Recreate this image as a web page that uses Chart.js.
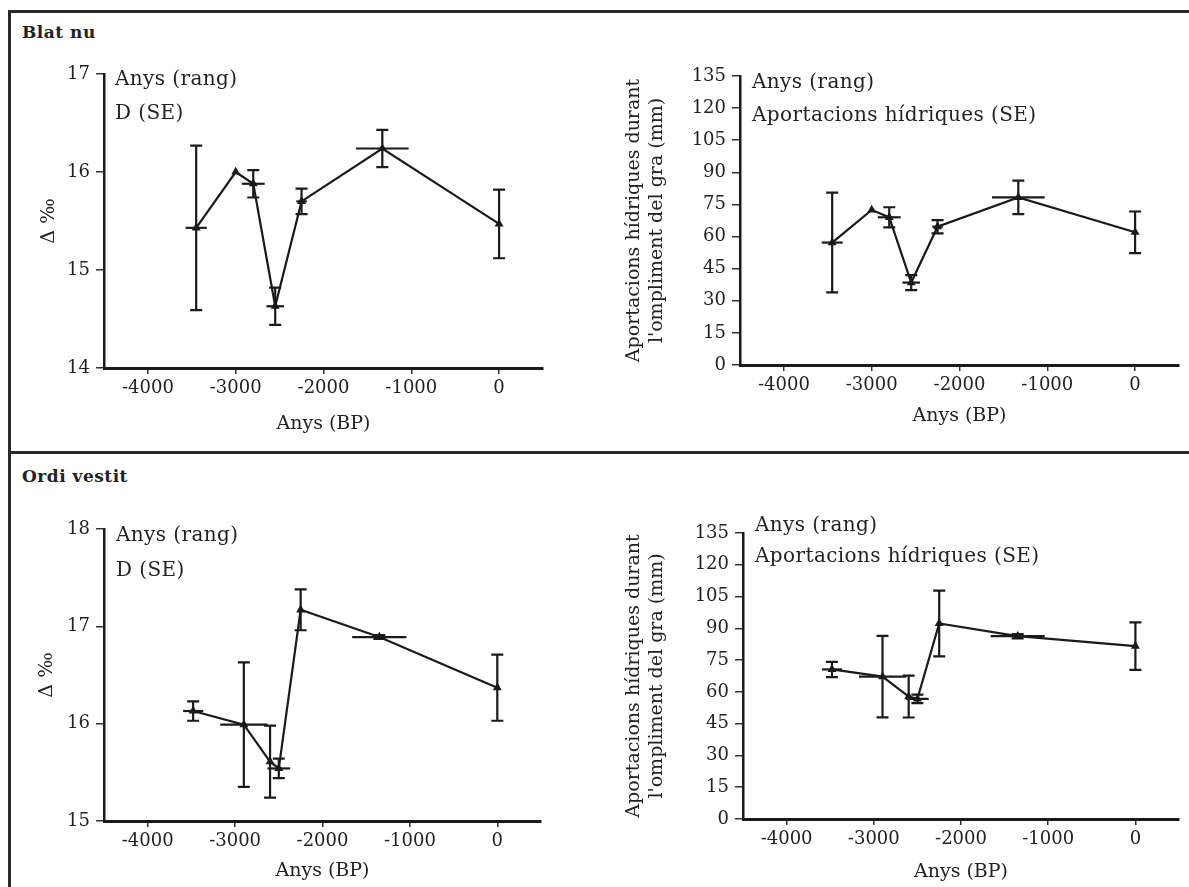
<!DOCTYPE html>
<html>
<head>
<meta charset="utf-8">
<script src="https://cdn.jsdelivr.net/npm/chart.js@4.4.1/dist/chart.umd.min.js"></script>
<style>
body { margin: 0; background: #fff; width: 1189px; height: 887px; position: relative; overflow: hidden; }
.frame { position: absolute; background: #2a2a2a; }
.head { position: absolute; font: bold 17px "DejaVu Serif", serif; color: #222; letter-spacing: 0.5px; }
canvas { position: absolute; }
</style>
</head>
<body>
<div class="frame" style="left:8px;top:10px;width:3px;height:877px"></div>
<div class="frame" style="left:8px;top:10px;width:1181px;height:3px"></div>
<div class="frame" style="left:8px;top:451px;width:1181px;height:3px"></div>
<div class="head" style="left:22px;top:22px">Blat nu</div>
<div class="head" style="left:22px;top:466px">Ordi vestit</div>
<canvas id="wheatDeltaChart" width="550" height="410" style="left:10px;top:40px"></canvas>
<canvas id="wheatWaterChart" width="609" height="410" style="left:580px;top:40px"></canvas>
<canvas id="barleyDeltaChart" width="550" height="397" style="left:10px;top:490px"></canvas>
<canvas id="barleyWaterChart" width="609" height="397" style="left:580px;top:490px"></canvas>
<script>
// Blat nu (wheat) - years BP with range, delta and water supply with SE
const wheatYears = [-3450, -3000, -2800, -2550, -2250, -1330, 0];
const wheatYearRange = [120, 0, 130, 100, 60, 300, 0];
const wheatDelta = [15.43, 16.0, 15.88, 14.63, 15.70, 16.24, 15.47];
const wheatDeltaSE = [0.84, 0, 0.14, 0.19, 0.13, 0.19, 0.35];
const wheatWater = [57.2, 72.4, 69.0, 38.5, 64.6, 78.3, 62.0];
const wheatWaterSE = [23.3, 0, 4.7, 3.5, 3.1, 7.8, 9.7];

// Ordi vestit (hulled barley)
const barleyYears = [-3480, -2900, -2600, -2500, -2250, -1350, 0];
const barleyYearRange = [115, 270, 0, 130, 0, 310, 0];
const barleyDelta = [16.13, 15.99, 15.61, 15.54, 17.17, 16.89, 16.37];
const barleyDeltaSE = [0.10, 0.64, 0.37, 0.10, 0.21, 0.02, 0.34];
const barleyWater = [70.6, 67.2, 57.8, 56.7, 92.3, 86.3, 81.6];
const barleyWaterSE = [3.6, 19.2, 9.9, 2.0, 15.5, 1.0, 11.2];

// tick labels
const yearTicks = [-4000, -3000, -2000, -1000, 0];
const wheatDeltaTicks = [14, 15, 16, 17];
const barleyDeltaTicks = [15, 16, 17, 18];
const waterTicks = [0, 15, 30, 45, 60, 75, 90, 105, 120, 135];

const INK = '#1a1a1a';
const TXT = '#222';
const FONT = { family: '"DejaVu Serif", serif', size: 18 };
const TITLE_FONT = { family: '"DejaVu Serif", serif', size: 19 };

// draws the vertical SE bars (with caps) and horizontal year-range bars
const errorBars = {
    id: 'errorBars',
    afterDatasetsDraw(chart) {
        const { ctx, scales: { x, y } } = chart;
        const ds = chart.data.datasets[0];
        ctx.save();
        ctx.strokeStyle = INK;
        ctx.lineWidth = 2.2;
        ds.data.forEach((p, i) => {
            const px = x.getPixelForValue(p.x);
            const py = y.getPixelForValue(p.y);
            const se = ds.yErr[i];
            const r = ds.xErr[i];
            if (se > 0) {
                const t = y.getPixelForValue(p.y + se);
                const b = y.getPixelForValue(p.y - se);
                ctx.beginPath();
                ctx.moveTo(px, t); ctx.lineTo(px, b);
                ctx.moveTo(px - 6, t); ctx.lineTo(px + 6, t);
                ctx.moveTo(px - 6, b); ctx.lineTo(px + 6, b);
                ctx.stroke();
            }
            if (r > 0) {
                ctx.beginPath();
                ctx.moveTo(x.getPixelForValue(p.x - r), py);
                ctx.lineTo(x.getPixelForValue(p.x + r), py);
                ctx.stroke();
            }
        });
        ctx.restore();
    }
};

// the two-line key in the top-left corner of each plot
const cornerText = {
    id: 'cornerText',
    afterDraw(chart, args, opts) {
        const { ctx, chartArea } = chart;
        ctx.save();
        ctx.font = '20px "DejaVu Serif", serif';
        ctx.letterSpacing = '0.4px';
        ctx.fillStyle = TXT;
        ctx.textBaseline = 'middle';
        opts.lines.forEach((t, i) => {
            ctx.fillText(t, chartArea.left + opts.dx, chartArea.top + opts.dy + i * opts.gap);
        });
        ctx.restore();
    }
};

function makeChart(id, cfg) {
    new Chart(document.getElementById(id), {
        type: 'scatter',
        data: {
            datasets: [{
                data: cfg.years.map((v, i) => ({ x: v, y: cfg.values[i] })),
                xErr: cfg.range,
                yErr: cfg.se,
                showLine: true,
                tension: 0,
                borderColor: INK,
                borderWidth: 2.2,
                pointStyle: 'triangle',
                pointRadius: 3,
                pointBackgroundColor: INK,
                pointBorderColor: INK
            }]
        },
        options: {
            responsive: false,
            animation: false,
            layout: { padding: cfg.pad },
            plugins: {
                legend: { display: false },
                tooltip: { enabled: false },
                cornerText: cfg.key
            },
            scales: {
                x: {
                    type: 'linear',
                    min: -4500,
                    max: 500,
                    afterBuildTicks: s => { s.ticks = yearTicks.map(v => ({ value: v })); },
                    afterFit: s => { s.height = cfg.xh; },
                    ticks: { callback: v => String(v), font: FONT, color: TXT, padding: 4, maxRotation: 0, autoSkip: false },
                    grid: { drawOnChartArea: false, tickLength: 6, color: '#333', lineWidth: 1.5 },
                    border: { color: INK, width: 3 },
                    title: { display: true, text: 'Anys (BP)', font: TITLE_FONT, color: TXT, padding: { top: 0, bottom: cfg.xtp } }
                },
                y: {
                    min: cfg.yMin,
                    max: cfg.yMax,
                    afterBuildTicks: s => { s.ticks = cfg.yTicks.map(v => ({ value: v })); },
                    afterFit: s => { s.width = cfg.yw; },
                    ticks: { callback: v => String(v), font: FONT, color: TXT, padding: 6, autoSkip: false },
                    grid: { drawOnChartArea: false, tickLength: 8, color: '#333', lineWidth: 1.5 },
                    border: { color: INK, width: 2.5 },
                    title: { display: true, text: cfg.yTitle, font: TITLE_FONT, color: TXT, padding: { top: cfg.ytp, bottom: 0 } }
                }
            }
        },
        plugins: [errorBars, cornerText]
    });
}

const waterTitle = ['Aportacions hídriques durant', "l'ompliment del gra (mm)"];

makeChart('wheatDeltaChart', {
    years: wheatYears, values: wheatDelta, range: wheatYearRange, se: wheatDeltaSE,
    yMin: 14, yMax: 17, yTicks: wheatDeltaTicks, yTitle: 'Δ ‰',
    pad: { top: 34, right: 17, bottom: 0, left: 0 }, yw: 94, xh: 82, xtp: 15, ytp: 28,
    key: { lines: ['Anys (rang)', 'D (SE)'], dx: 11, dy: 6, gap: 34 }
});
makeChart('wheatWaterChart', {
    years: wheatYears, values: wheatWater, range: wheatYearRange, se: wheatWaterSE,
    yMin: 0, yMax: 135, yTicks: waterTicks, yTitle: waterTitle,
    pad: { top: 36, right: 10, bottom: 0, left: 0 }, yw: 160, xh: 85, xtp: 23, ytp: 43,
    key: { lines: ['Anys (rang)', 'Aportacions hídriques (SE)'], dx: 12, dy: 7, gap: 33 }
});
makeChart('barleyDeltaChart', {
    years: barleyYears, values: barleyDelta, range: barleyYearRange, se: barleyDeltaSE,
    yMin: 15, yMax: 18, yTicks: barleyDeltaTicks, yTitle: 'Δ ‰',
    pad: { top: 39, right: 19, bottom: 0, left: 0 }, yw: 94, xh: 66, xtp: 5, ytp: 26,
    key: { lines: ['Anys (rang)', 'D (SE)'], dx: 12, dy: 7, gap: 35 }
});
makeChart('barleyWaterChart', {
    years: barleyYears, values: barleyWater, range: barleyYearRange, se: barleyWaterSE,
    yMin: 0, yMax: 135, yTicks: waterTicks, yTitle: waterTitle,
    pad: { top: 43, right: 10, bottom: 0, left: 0 }, yw: 163, xh: 68, xtp: 4, ytp: 43,
    key: { lines: ['Anys (rang)', 'Aportacions hídriques (SE)'], dx: 12, dy: -7, gap: 31 }
});
</script>
</body>
</html>
